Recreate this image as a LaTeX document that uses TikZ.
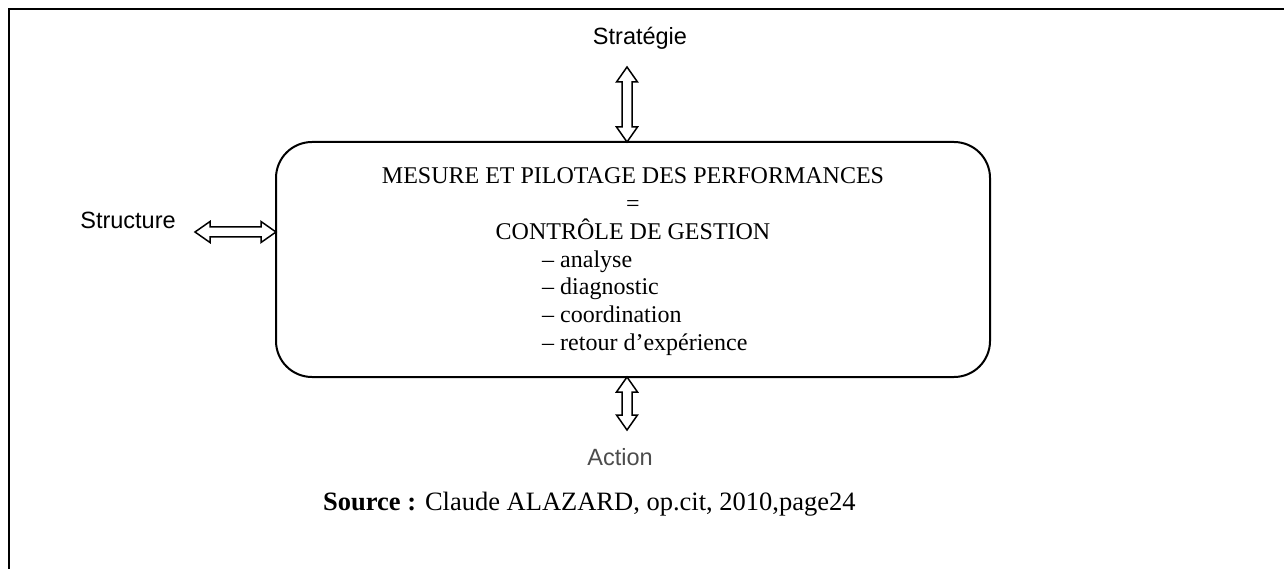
\documentclass[tikz,border=0pt]{standalone}
\usepackage{fontspec}
\setmainfont{Liberation Serif}
\newfontfamily\labelfont{Liberation Sans}
\usetikzlibrary{calc}

% block (hollow) double arrow between two points
\def\arrHead{15pt}
\def\arrHalfHead{10.5pt}
\def\arrHalfShaft{5pt}
\newcommand{\blockarrow}[2]{%
  \draw[blockarrowline]
    (#1)
    -- ($(#1)!\arrHead!(#2)!\arrHalfHead!90:(#2)$)
    -- ($(#1)!\arrHead!(#2)!\arrHalfShaft!90:(#2)$)
    -- ($(#2)!\arrHead!(#1)!\arrHalfShaft!-90:(#1)$)
    -- ($(#2)!\arrHead!(#1)!\arrHalfHead!-90:(#1)$)
    -- (#2)
    -- ($(#2)!\arrHead!(#1)!\arrHalfHead!90:(#1)$)
    -- ($(#2)!\arrHead!(#1)!\arrHalfShaft!90:(#1)$)
    -- ($(#1)!\arrHead!(#2)!\arrHalfShaft!-90:(#2)$)
    -- ($(#1)!\arrHead!(#2)!\arrHalfHead!-90:(#2)$)
    -- cycle;}

\tikzset{
  blockarrowline/.style={draw=black, line width=1.5pt, fill=white, line join=miter},
  sidelabel/.style={font=\labelfont\fontsize{23.5}{26}\selectfont, anchor=base, inner sep=0pt},
  boxtext/.style={font=\fontsize{24}{27}\selectfont, anchor=base, inner sep=0pt},
  sourcetext/.style={font=\fontsize{26.5}{30}\selectfont, anchor=base west, inner sep=0pt},
}

\begin{document}
\begin{tikzpicture}[x=1pt, y=-1pt]
  \useasboundingbox (0,0) rectangle (1284,569);
  \fill[white] (0,0) rectangle (1284,569);

  % outer frame (open on the right and bottom)
  \draw[line width=2pt] (1284,9) -- (9,9) -- (9,569);

  % central box
  \node[draw, line width=2pt, rounded corners=36pt, minimum width=714pt,
        minimum height=235pt, inner sep=0pt] (box) at (633,259.5) {};

  \node[boxtext] (l1) at (633,184) {MESURE ET PILOTAGE DES PERFORMANCES};
  \node[boxtext] (l2) at (633,212) {=};
  \node[boxtext] (l3) at (633,240) {CONTRÔLE DE GESTION};
  \node[boxtext, anchor=base west] (i1) at (542,267) {– analyse};
  \node[boxtext, anchor=base west] (i2) at (542,294) {– diagnostic};
  \node[boxtext, anchor=base west] (i3) at (542,322) {– coordination};
  \node[boxtext, anchor=base west] (i4) at (542,350) {– retour d’expérience};

  % surrounding labels
  \node[sidelabel] (strat) at (640,45) {Stratégie};
  \node[sidelabel] (struct) at (128,229) {Structure};
  \node[sidelabel, text=black!70] (action) at (620,465) {Action};

  \node[sourcetext] (source) at (323,510)
       {\textbf{Source :} Claude ALAZARD, op.cit, 2010,page24};

  % connector end points
  \coordinate (stratEnd) at (627,67);
  \coordinate (boxTop) at (627,142);
  \coordinate (structEnd) at (195,232);
  \coordinate (boxLeft) at (276,232);
  \coordinate (boxBottom) at (627,377);
  \coordinate (actionEnd) at (627,430);

  \blockarrow{stratEnd}{boxTop}
  \blockarrow{structEnd}{boxLeft}
  \blockarrow{boxBottom}{actionEnd}
\end{tikzpicture}
\end{document}
